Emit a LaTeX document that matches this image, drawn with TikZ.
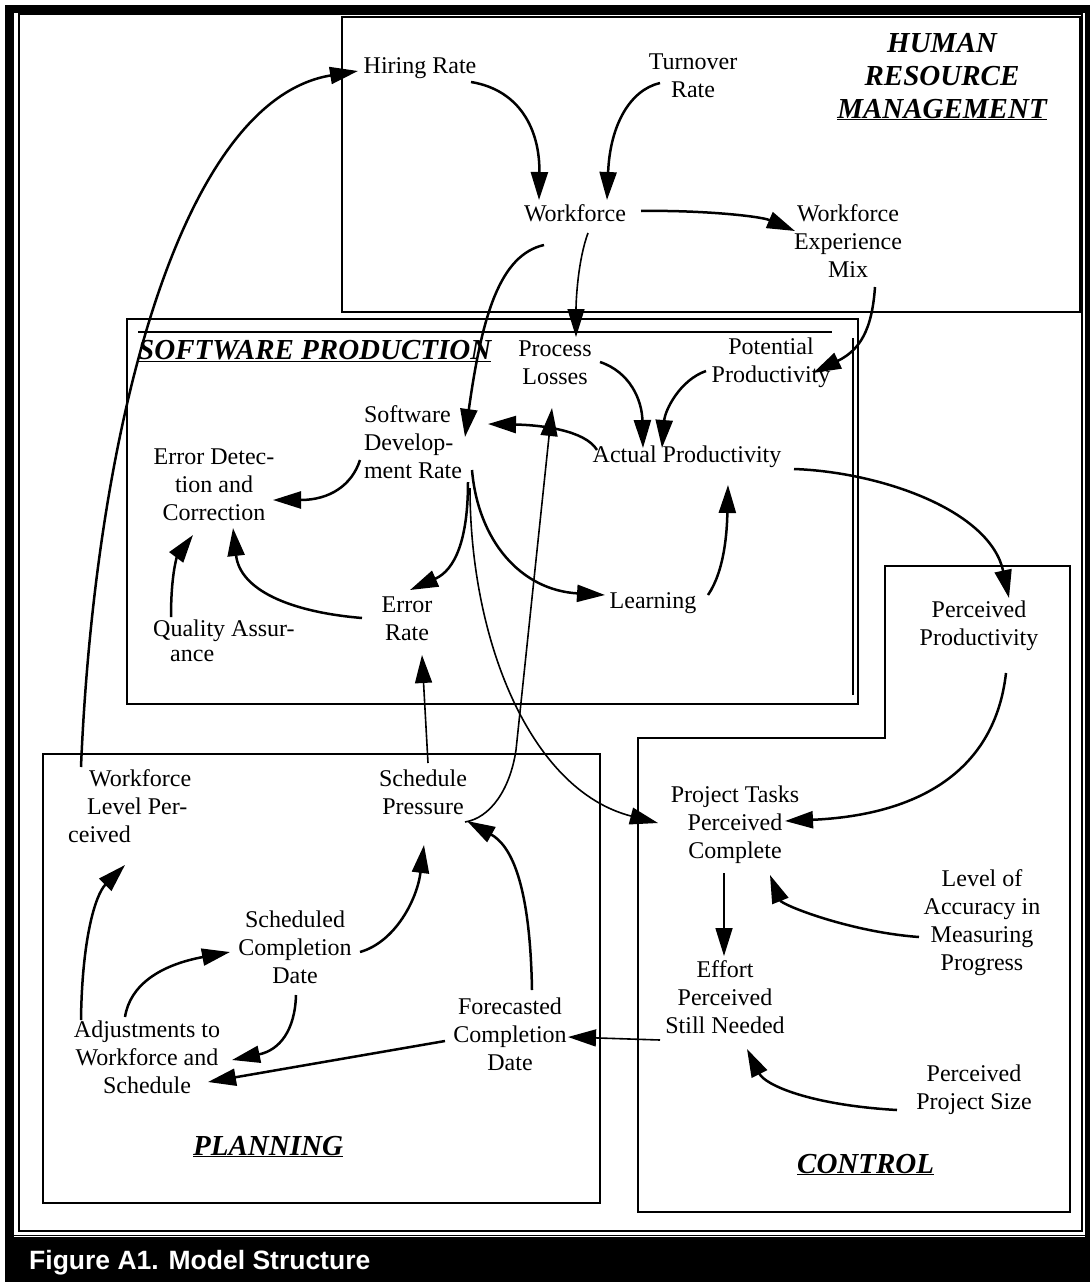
\documentclass[tikz,border=0pt]{standalone}
\usepackage{fontspec}
\setmainfont{Liberation Serif}
\newfontfamily\capfont{Liberation Sans}
\usetikzlibrary{arrows.meta,calc}
\begin{document}
\begin{tikzpicture}[x=1pt,y=-1pt,
  lbl/.style={font=\fontsize{24}{28}\selectfont, align=center, inner sep=1pt},
  hd/.style={font=\fontsize{29}{33}\selectfont\bfseries\itshape, inner sep=0pt},
  arr/.style={line width=2.5pt, -{Triangle[length=28pt,width=17pt]}},
  thinarr/.style={line width=1.6pt, -{Triangle[length=28pt,width=17pt]}},
  box/.style={line width=1.8pt}]
\useasboundingbox (0,0) rectangle (1090,1282);
% outer frame
\fill[black] (5,5) rectangle (1090,1282);
\fill[white] (14,13) rectangle (1085,1237);
\draw[line width=1.2pt] (19,14) rectangle (1082,1231);
\draw[line width=1pt] (14,1235) -- (1085,1235);
\node[anchor=base west, text=white, inner sep=0pt,
      font=\capfont\fontsize{26.5}{30}\selectfont\bfseries] (cap) at (29,1269) {Figure A1. Model Structure};
% region boxes
\draw[box] (342,17) rectangle (1080,312);
\draw[box] (127,319) rectangle (858,704);
\draw[line width=1.4pt] (138,332) -- (832,332);
\draw[line width=1.4pt] (853,338) -- (853,695);
\draw[box] (43,754) rectangle (600,1203);
\draw[box] (638,1212) -- (638,738) -- (885,738) -- (885,566) -- (1070,566) -- (1070,1212) -- cycle;
% headings
\node[hd, anchor=base] (hum) at (942,52) {HUMAN};
\node[hd, anchor=base] (res) at (942,85) {RESOURCE};
\node[hd, anchor=base] (man) at (942,118) {\underline{MANAGEMENT}};
\node[hd, anchor=base west] (sph) at (138,359) {\underline{SOFTWARE PRODUCTION}};
\node[hd, anchor=base west] (plh) at (193,1155) {\underline{PLANNING}};
\node[hd, anchor=base west] (cth) at (797,1173) {\underline{CONTROL}};
% nodes
\node[lbl] (hr) at (420,68) {Hiring Rate};
\node[lbl] (tr) at (693,76) {Turnover\\Rate};
\node[lbl] (wf) at (575,213) {Workforce};
\node[lbl] (wem) at (848,241) {Workforce\\Experience\\Mix};
\node[lbl] (pl) at (555,363) {Process\\Losses};
\node[lbl] (pp) at (771,363) {Potential\\Productivity};
\node[lbl, align=left] (sdr) at (413,442) {Software\\Develop-\\ment Rate};
\node[lbl] (edc) at (214,485) {Error Detec-\\tion and\\Correction};
\node[lbl] (ap) at (687,457) {Actual Productivity};
\node[lbl, align=left, anchor=west] (qa) at (152,641) {Quality Assur-\\[-3pt]\hspace*{17pt}ance};
\node[lbl] (er) at (407,619) {Error\\Rate};
\node[lbl] (lrn) at (653,603) {Learning};
\node[lbl] (ppr) at (979,626) {Perceived\\Productivity};
\node[lbl] (ptpc) at (735,825) {Project Tasks\\Perceived\\Complete};
\node[lbl] (loa) at (982,923) {Level of\\Accuracy in\\Measuring\\Progress};
\node[lbl] (eff) at (725,997) {Effort\\Perceived\\Still Needed};
\node[lbl] (pps) at (974,1090) {Perceived\\Project Size};
\node[lbl, align=left, anchor=west] (wflp) at (67,806) {\hspace*{21pt}Workforce\\\hspace*{19pt}Level Per-\\ceived};
\node[lbl] (spr) at (423,792) {Schedule\\Pressure};
\node[lbl] (scd) at (295,947) {Scheduled\\Completion\\Date};
\node[lbl] (adj) at (147,1057) {Adjustments to\\Workforce and\\Schedule};
\node[lbl] (fcd) at (510,1034) {Forecasted\\Completion\\Date};
% connectors
\draw[arr] ($(wflp.west)+(14,-39)$) .. controls (95,430) and (180,100) .. ($(hr)+(-62,3)$);
\draw[arr] ($(hr)+(51,14)$) .. controls (520,90) and (540,130) .. ($(wf)+(-36,-13)$);
\draw[arr] ($(tr)+(-33,7)$) .. controls (630,90) and (610,125) .. ($(wf)+(32,-13)$);
\draw[arr] ($(wf)+(66,-2)$) .. controls (700,210) and (760,216) .. ($(wem)+(-53,-10)$);
\draw[thinarr] ($(wf)+(13,20)$) .. controls (578,260) and (576,300) .. ($(pl)+(21,-26)$);
\draw[arr] ($(wf)+(-31,32)$) .. controls (500,255) and (482,315) .. ($(sdr)+(52,-5)$);
\draw[arr] ($(wem)+(27,46)$) .. controls (872,330) and (860,350) .. ($(pp)+(42,10)$);
\draw[arr] ($(pl)+(45,-1)$) .. controls (630,372) and (642,400) .. ($(ap)+(-44,-9)$);
\draw[arr] ($(pp)+(-65,8)$) .. controls (680,380) and (665,410) .. ($(ap)+(-25,-9)$);
\draw[arr] ($(ap)+(-90,-7)$) .. controls (585,430) and (540,425) .. ($(sdr)+(75,-18)$);
\draw[arr] ($(sdr)+(-53,18)$) .. controls (352,485) and (330,500) .. ($(edc)+(59,15)$);
\draw[arr] ($(sdr)+(55,40)$) .. controls (468,540) and (455,570) .. ($(er)+(3,-29)$);
\draw[arr] ($(sdr)+(59,28)$) .. controls (478,540) and (520,590) .. ($(lrn)+(-48,-8)$);
\draw[thinarr] ($(sdr)+(57,46)$) .. controls (470,640) and (530,790) .. ($(ptpc)+(-77,-2)$);
\draw[thinarr] ($(spr)+(42,30)$) .. controls (490,818) and (510,790) .. (516,750) -- ($(pl)+(-3,45)$);
\draw[arr] ($(fcd)+(22,-44)$) .. controls (530,880) and (510,845) .. ($(spr)+(44,29)$);
\draw[thinarr] ($(spr)+(5,-29)$) -- ($(er)+(15,36)$);
\draw[arr] ($(er)+(-45,-1)$) .. controls (290,612) and (240,590) .. ($(edc)+(19,43)$);
\draw[arr] ($(qa.west)+(19,-24)$) .. controls (171,570) and (178,555) .. ($(edc)+(-21,50)$);
\draw[arr] ($(lrn)+(55,-8)$) .. controls (725,570) and (727,530) .. ($(ap)+(41,28)$);
\draw[arr] ($(ap)+(107,12)$) .. controls (880,472) and (990,510) .. ($(ppr)+(30,-28)$);
\draw[arr] ($(ppr)+(27,47)$) .. controls (995,770) and (920,815) .. ($(ptpc)+(50,-4)$);
\draw[thinarr] ($(ptpc)+(-11,48)$) -- ($(eff)+(-1,-41)$);
\draw[arr] ($(loa)+(-63,14)$) .. controls (850,932) and (782,905) .. ($(ptpc)+(35,50)$);
\draw[arr] ($(pps)+(-77,20)$) .. controls (810,1105) and (765,1085) .. ($(eff)+(22,52)$);
\draw[thinarr] ($(eff)+(-65,43)$) -- ($(fcd)+(58,3)$);
\draw[arr] ($(fcd)+(-65,7)$) -- ($(adj)+(61,25)$);
\draw[arr] ($(scd)+(65,5)$) .. controls (395,942) and (417,900) .. ($(spr)+(1,53)$);
\draw[arr] ($(scd)+(1,48)$) .. controls (295,1030) and (280,1050) .. ($(adj)+(85,3)$);
\draw[arr] ($(adj)+(-22,-40)$) .. controls (130,985) and (160,965) .. ($(scd)+(-65,5)$);
\draw[arr] ($(adj)+(-66,-37)$) .. controls (82,940) and (95,895) .. ($(wflp.west)+(58,59)$);
\end{tikzpicture}
\end{document}
